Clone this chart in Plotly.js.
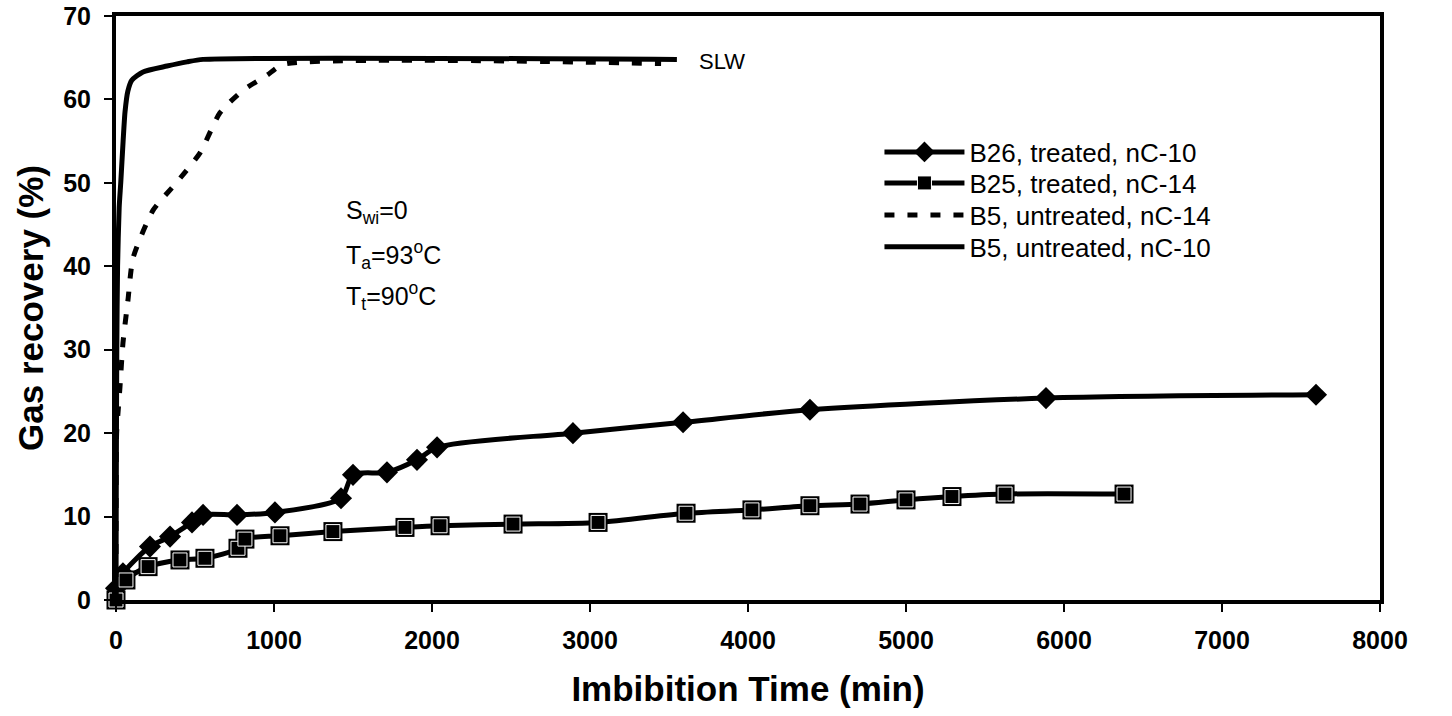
<!DOCTYPE html>
<html>
<head>
<meta charset="utf-8">
<script src="https://cdn.plot.ly/plotly-3.0.1.min.js"></script>
<style>html,body{margin:0;padding:0;background:#fff;}#chart{width:1452px;height:716px;}</style>
</head>
<body>
<div id="chart"></div>
<script>
// B26, treated, nC-10 (diamonds)
const b26Time = [0, 44, 215, 342, 481, 551, 766, 1006, 1424, 1500, 1715, 1905, 2032, 2892, 3589, 4392, 5886, 7595];
const b26Rec  = [1.4, 3.2, 6.4, 7.6, 9.3, 10.2, 10.2, 10.5, 12.2, 15.0, 15.3, 16.8, 18.3, 20.0, 21.3, 22.8, 24.2, 24.6];

// B25, treated, nC-14 (squares)
const b25Time = [0, 63, 203, 405, 563, 772, 816, 1038, 1373, 1829, 2051, 2513, 3051, 3608, 4025, 4392, 4709, 5000, 5291, 5627, 6380];
const b25Rec  = [0.0, 2.4, 4.0, 4.8, 5.0, 6.2, 7.3, 7.7, 8.2, 8.7, 8.9, 9.1, 9.3, 10.4, 10.8, 11.3, 11.5, 12.0, 12.4, 12.7, 12.7];

// B5, untreated, nC-14 (dashed)
const b5c14Time = [0, 4, 15, 25, 44, 76, 108, 234, 386, 532, 658, 804, 956, 1057, 3450];
const b5c14Rec  = [0, 20, 23, 25.5, 30.8, 36, 41, 46.7, 50.1, 53.6, 58.4, 61.1, 62.9, 64.2, 64.3];

// B5, untreated, nC-10 (solid)
const b5c10Time = [0, 2, 5, 10, 20, 30, 45, 57, 75, 100, 171, 323, 449, 551, 3550];
const b5c10Rec  = [0, 15, 30, 40, 47, 50, 55, 58.5, 61, 62.3, 63.3, 64, 64.5, 64.8, 64.8];

const seriesNames = ['B26, treated, nC-10', 'B25, treated, nC-14', 'B5, untreated, nC-14', 'B5, untreated, nC-10'];
const xTicks = [0, 1000, 2000, 3000, 4000, 5000, 6000, 7000, 8000];
const yTicks = [0, 10, 20, 30, 40, 50, 60, 70];

const FONT = 'Liberation Sans, Arial, sans-serif';

const traces = [
  {
    x: b26Time, y: b26Rec, name: seriesNames[0], type: 'scatter', mode: 'lines+markers',
    line: {color: '#000', width: 5, shape: 'spline', smoothing: 0.8},
    marker: {symbol: 'diamond', size: 17, color: '#000'},
    cliponaxis: false, legend: 'legend'
  },
  {
    x: b25Time, y: b25Rec, name: seriesNames[1], type: 'scatter', mode: 'markers',
    marker: {symbol: 'square', size: 19, color: '#000'},
    showlegend: false, cliponaxis: false
  },
  {
    x: b25Time, y: b25Rec, name: seriesNames[1], type: 'scatter', mode: 'lines+markers',
    line: {color: '#000', width: 5, shape: 'spline', smoothing: 0.8},
    marker: {symbol: 'square', size: 14, color: '#000', line: {color: '#fff', width: 1}},
    cliponaxis: false, legend: 'legend2'
  },
  {
    x: b5c14Time, y: b5c14Rec, name: seriesNames[2], type: 'scatter', mode: 'lines',
    line: {color: '#000', width: 5, dash: '10px,13px', shape: 'spline', smoothing: 0.6},
    cliponaxis: false, legend: 'legend3'
  },
  {
    x: b5c10Time, y: b5c10Rec, name: seriesNames[3], type: 'scatter', mode: 'lines',
    line: {color: '#000', width: 5, shape: 'spline', smoothing: 0.6},
    cliponaxis: false, legend: 'legend4'
  }
];

function legendAt(yPaper) {
  return {
    x: 0.604, y: yPaper, xanchor: 'left', yanchor: 'middle',
    bgcolor: 'rgba(0,0,0,0)', borderwidth: 0,
    font: {family: FONT, size: 26, color: '#000'},
    itemwidth: 80
  };
}

const layout = {
  width: 1452, height: 716,
  margin: {l: 116, r: 72, t: 16, b: 116, pad: 0},
  paper_bgcolor: '#fff', plot_bgcolor: '#fff',
  font: {family: FONT, color: '#000', size: 21},
  showlegend: true,
  legend: legendAt(0.767),
  legend2: legendAt(0.714),
  legend3: legendAt(0.659),
  legend4: legendAt(0.6045),
  xaxis: {
    range: [0, 8000], tickvals: xTicks, ticktext: xTicks.map(String),
    showgrid: false, zeroline: false,
    showline: true, linecolor: '#000', linewidth: 4, mirror: true,
    ticks: 'outside', ticklen: 8, tickwidth: 2, tickcolor: '#000',
    tickfont: {family: FONT, size: 25, color: '#000', weight: 'bold'},
    ticklabelstandoff: 7,
    title: {text: '<b>Imbibition Time (min)</b>', font: {family: FONT, size: 35, color: '#000'}, standoff: 24}
  },
  yaxis: {
    range: [0, 70], tickvals: yTicks, ticktext: yTicks.map(String),
    showgrid: false, zeroline: false,
    showline: true, linecolor: '#000', linewidth: 4, mirror: true,
    ticks: 'outside', ticklen: 8, tickwidth: 2, tickcolor: '#000',
    tickfont: {family: FONT, size: 25, color: '#000', weight: 'bold'},
    ticklabelstandoff: 8,
    title: {text: '<b>Gas recovery (%)</b>', font: {family: FONT, size: 35, color: '#000'}, standoff: 10}
  },
  annotations: [
    {xref: 'x', yref: 'y', x: 1440, y: 46.5, xanchor: 'left', yanchor: 'middle', showarrow: false,
     text: 'S<sub>wi</sub>=0', font: {family: FONT, size: 25, color: '#000'}},
    {xref: 'x', yref: 'y', x: 1440, y: 41.4, xanchor: 'left', yanchor: 'middle', showarrow: false,
     text: 'T<sub>a</sub>=93<sup>o</sup>C', font: {family: FONT, size: 25, color: '#000'}},
    {xref: 'x', yref: 'y', x: 1440, y: 36.4, xanchor: 'left', yanchor: 'middle', showarrow: false,
     text: 'T<sub>t</sub>=90<sup>o</sup>C', font: {family: FONT, size: 25, color: '#000'}},
    {xref: 'x', yref: 'y', x: 3677, y: 64.6, xanchor: 'left', yanchor: 'middle', showarrow: false,
     text: 'SLW', font: {family: FONT, size: 22, color: '#000'}}
  ]
};

Plotly.newPlot('chart', traces, layout, {displayModeBar: false, staticPlot: true});
</script>
</body>
</html>
